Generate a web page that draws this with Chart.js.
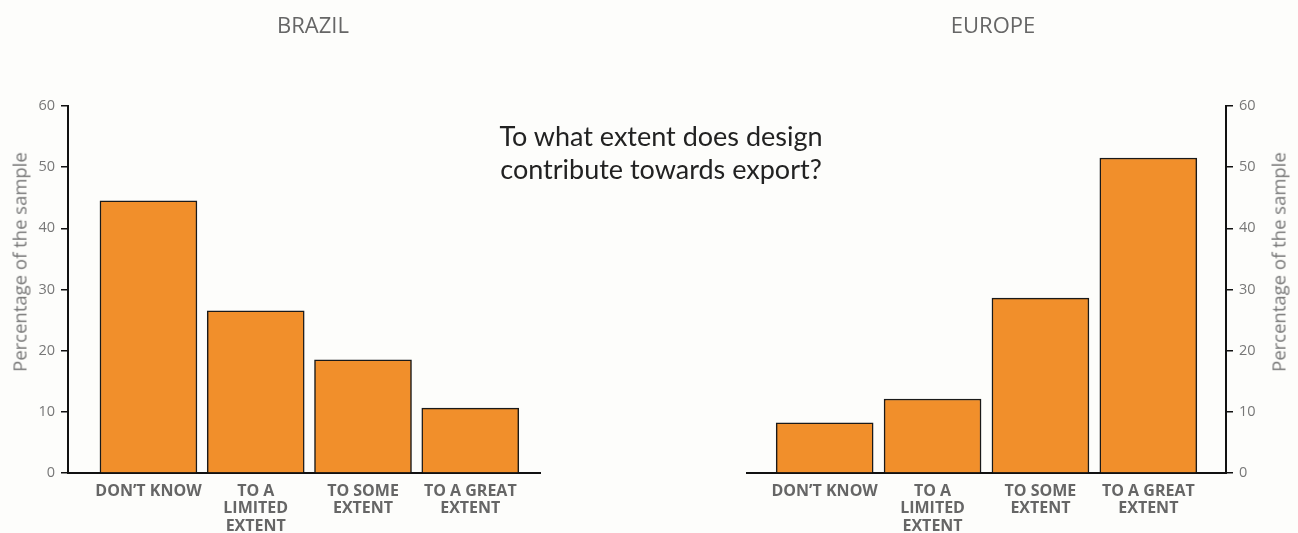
<!DOCTYPE html>
<html>
<head>
<meta charset="utf-8">
<script src="https://cdn.jsdelivr.net/npm/chart.js@4"></script>
<style>
  html,body{margin:0;padding:0;background:#fdfdfb;}
  #wrap{position:relative;width:1298px;height:533px;overflow:hidden;background:#fdfdfb;}
  .cv{position:absolute;top:0;}
  .t{position:absolute;font-family:"Open Sans",sans-serif;color:#666;white-space:nowrap;line-height:30px;}
  .q{position:absolute;font-family:Lato,sans-serif;color:#222;font-size:27px;line-height:33px;text-align:center;white-space:nowrap;}
  .yt{position:absolute;font-family:"Open Sans",sans-serif;color:#777;font-size:18.5px;white-space:nowrap;transform:translate(-50%,-50%) rotate(-90deg);}
</style>
</head>
<body>
<div id="wrap">
  <div class="cv" style="left:0;width:560px;height:533px;"><canvas id="c1"></canvas></div>
  <div class="cv" style="left:730px;width:568px;height:533px;"><canvas id="c2"></canvas></div>
  <div class="t" style="left:313px;top:9px;font-size:22px;transform:translateX(-50%);">BRAZIL</div>
  <div class="t" style="left:993px;top:9px;font-size:22px;transform:translateX(-50%);">EUROPE</div>
  <div class="q" style="left:661px;top:119px;transform:translateX(-50%);">To what extent does design<br>contribute towards export?</div>
  <div class="yt" style="left:19px;top:262px;">Percentage of the sample</div>
  <div class="yt" style="left:1278px;top:262px;">Percentage of the sample</div>
</div>
<script>
const categories = [["DON\u2019T KNOW"], ["TO A", "LIMITED", "EXTENT"], ["TO SOME", "EXTENT"], ["TO A GREAT", "EXTENT"]];
const brazilValues = [44.5, 26.5, 18.5, 10.6];
const europeValues = [8.2, 12.1, 28.6, 51.5];
const yTicks = [0, 10, 20, 30, 40, 50, 60];

function makeChart(id, values, side, xMin, xMax, pad) {
  const data = values.map((v, i) => ({x: i, y: v}));
  new Chart(document.getElementById(id), {
    type: 'bar',
    data: {datasets: [{data: data, backgroundColor: '#f18f2b', borderColor: '#1a1a1a', borderWidth: 1.5, barThickness: 97}]},
    options: {
      responsive: true, maintainAspectRatio: false, animation: false,
      layout: {padding: pad},
      plugins: {legend: {display: false}, tooltip: {enabled: false}},
      scales: {
        x: {
          type: 'linear', min: xMin, max: xMax, offset: false,
          afterBuildTicks: a => { a.ticks = categories.map((_, i) => ({value: i})); },
          afterFit: s => { s.height = 60; },
          grid: {display: false},
          border: {display: true, color: '#111', width: 2},
          ticks: {
            autoSkip: false, maxRotation: 0, padding: 2,
            color: '#666', font: {family: 'Open Sans', size: 16, weight: '700', lineHeight: 1.08},
            callback: v => categories[v]
          }
        },
        y: {
          position: side, min: 0, max: 60,
          afterBuildTicks: a => { a.ticks = yTicks.map(v => ({value: v})); },
          afterFit: s => { s.width = side === 'left' ? 68 : 72; },
          grid: {drawOnChartArea: false, drawTicks: true, tickLength: 7, color: '#111', lineWidth: 1.5},
          border: {display: true, color: '#111', width: 2},
          ticks: {color: '#777', padding: 6, font: {family: 'Open Sans', size: 14.5}}
        }
      }
    }
  });
}
makeChart('c1', brazilValues, 'left', -0.75, 3.65, {left: 0, right: 20, top: 106, bottom: 0});
makeChart('c2', europeValues, 'right', -0.72, 3.72, {left: 17, right: 0, top: 106, bottom: 0});
</script>
</body>
</html>
